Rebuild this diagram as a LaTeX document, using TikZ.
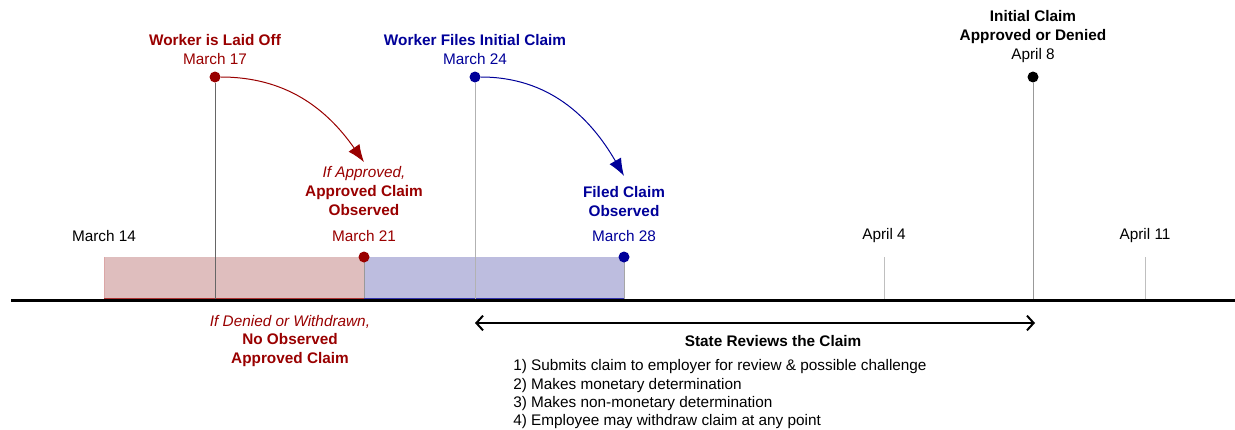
\documentclass[tikz,border=0pt]{standalone}
\usepackage{fontspec}
\setmainfont{Liberation Sans}
\usetikzlibrary{arrows.meta}
\definecolor{claimred}{HTML}{990000}
\definecolor{claimblue}{HTML}{000099}
\definecolor{redfill}{HTML}{DFBEBE}
\definecolor{bluefill}{HTML}{BDBDDF}
\tikzset{
	dot/.style={circle, fill=#1, inner sep=0pt, minimum size=8.25pt},
	lbl/.style={font=\fontsize{11.5}{14.25}\selectfont, align=center, inner sep=1pt},
	sublbl/.style={font=\fontsize{11.5}{13.75}\selectfont, align=center, inner sep=1pt},
	stem/.style={line width=0.6pt, color=#1},
}

\begin{document}
\begin{tikzpicture}[x=0.75pt, y=-0.75pt]
		%%%%% START %%%%%
		\useasboundingbox (0, 0) rectangle (1235, 429);
		
		\coordinate (a14) at (104, 300);
		\coordinate (a17) at (215, 300);
		\coordinate (a21) at (364, 300);
		\coordinate (a24) at (475, 300);
		\coordinate (a28) at (624, 300);
		\coordinate (a4) at (884, 300);
		\coordinate (a8) at (1033, 300);
		\coordinate (a11) at (1145, 300);
		
		\fill[redfill] (104, 257) rectangle (364, 300);
		\fill[bluefill] (364, 257) rectangle (624, 300);
		\draw[line width=0.6pt, color=claimred!35] (104, 257) -- (a14);
		\draw[line width=0.6pt, color=black!40] (364, 257) -- (a21);
		\draw[line width=0.6pt, color=black!35] (624, 257) -- (a28);
		\draw[line width=0.6pt, color=claimred!80] (104, 298) -- (364, 298);
		\draw[line width=0.6pt, color=claimblue!80] (364, 298) -- (624, 298);
		
		\node[dot=claimred] (laidoff) at (215, 77) {};
		\node[dot=claimblue] (filing) at (475, 77) {};
		\node[dot=black] (decision) at (1033, 77) {};
		\node[dot=claimred] (obs21) at (364, 257) {};
		\node[dot=claimblue] (obs28) at (624, 257) {};
		
		\draw[stem=black!60] (laidoff) -- (a17);
		\draw[stem=black!30] (filing) -- (a24);
		\draw[stem=black!40] (decision) -- (a8);
		\draw[stem=black!25] (884, 257) -- (a4);
		\draw[stem=black!25] (1145, 257) -- (a11);
		
		\draw[line width=2.25pt] (11, 300) -- (1235, 300);
		
		\node[lbl, color=claimred] (laidtxt) at (215, 50) {\textbf{Worker is Laid Off}\\March 17};
		\node[lbl, color=claimblue] (filetxt) at (475, 50) {\textbf{Worker Files Initial Claim}\\March 24};
		\node[lbl] (decidetxt) at (1033, 37) {\textbf{Initial Claim}\\\textbf{Approved or Denied}\\April 8};
		
		\node[lbl, color=claimred] (approved) at (364, 191) {\textit{If Approved,}\\\textbf{Approved Claim}\\\textbf{Observed}};
		\node[lbl, color=claimblue] (filed) at (624, 202) {\textbf{Filed Claim}\\\textbf{Observed}};
		
		\node[lbl] (d14) at (104, 236) {March 14};
		\node[lbl, color=claimred] (d21) at (364, 236) {March 21};
		\node[lbl, color=claimblue] (d28) at (624, 236) {March 28};
		\node[lbl] (d4) at (884, 236) {April 4};
		\node[lbl] (d11) at (1145, 236) {April 11};
		
		\draw[line width=0.75pt, color=claimred, -{Latex[length=13pt, width=10pt]}] (laidoff) to[out=0, in=125] ([yshift=2pt]approved.north);
		\draw[line width=0.75pt, color=claimblue, -{Latex[length=13pt, width=10pt]}] (filing) to[out=0, in=120] ([yshift=7pt]filed.north);
		
		\node[sublbl, color=claimred] (denied) at (290, 341) {\textit{If Denied or Withdrawn,}\\\textbf{No Observed}\\\textbf{Approved Claim}};
		
		\coordinate (rstart) at (475, 323);
		\coordinate (rend) at (1035, 323);
		\draw[line width=1.5pt, {Straight Barb[length=5pt, width=11pt]}-{Straight Barb[length=5pt, width=11pt]}] (rstart) -- (rend);
		
		\node[lbl] (review) at (773, 341) {\textbf{State Reviews the Claim}};
		\node[sublbl, anchor=west, align=left, inner sep=0pt] (steps) at (513, 394.5) {1) Submits claim to employer for review \& possible challenge\\2) Makes monetary determination\\3) Makes non-monetary determination\\4) Employee may withdraw claim at any point};
		%%%%% END %%%%%
\end{tikzpicture}
\end{document}
